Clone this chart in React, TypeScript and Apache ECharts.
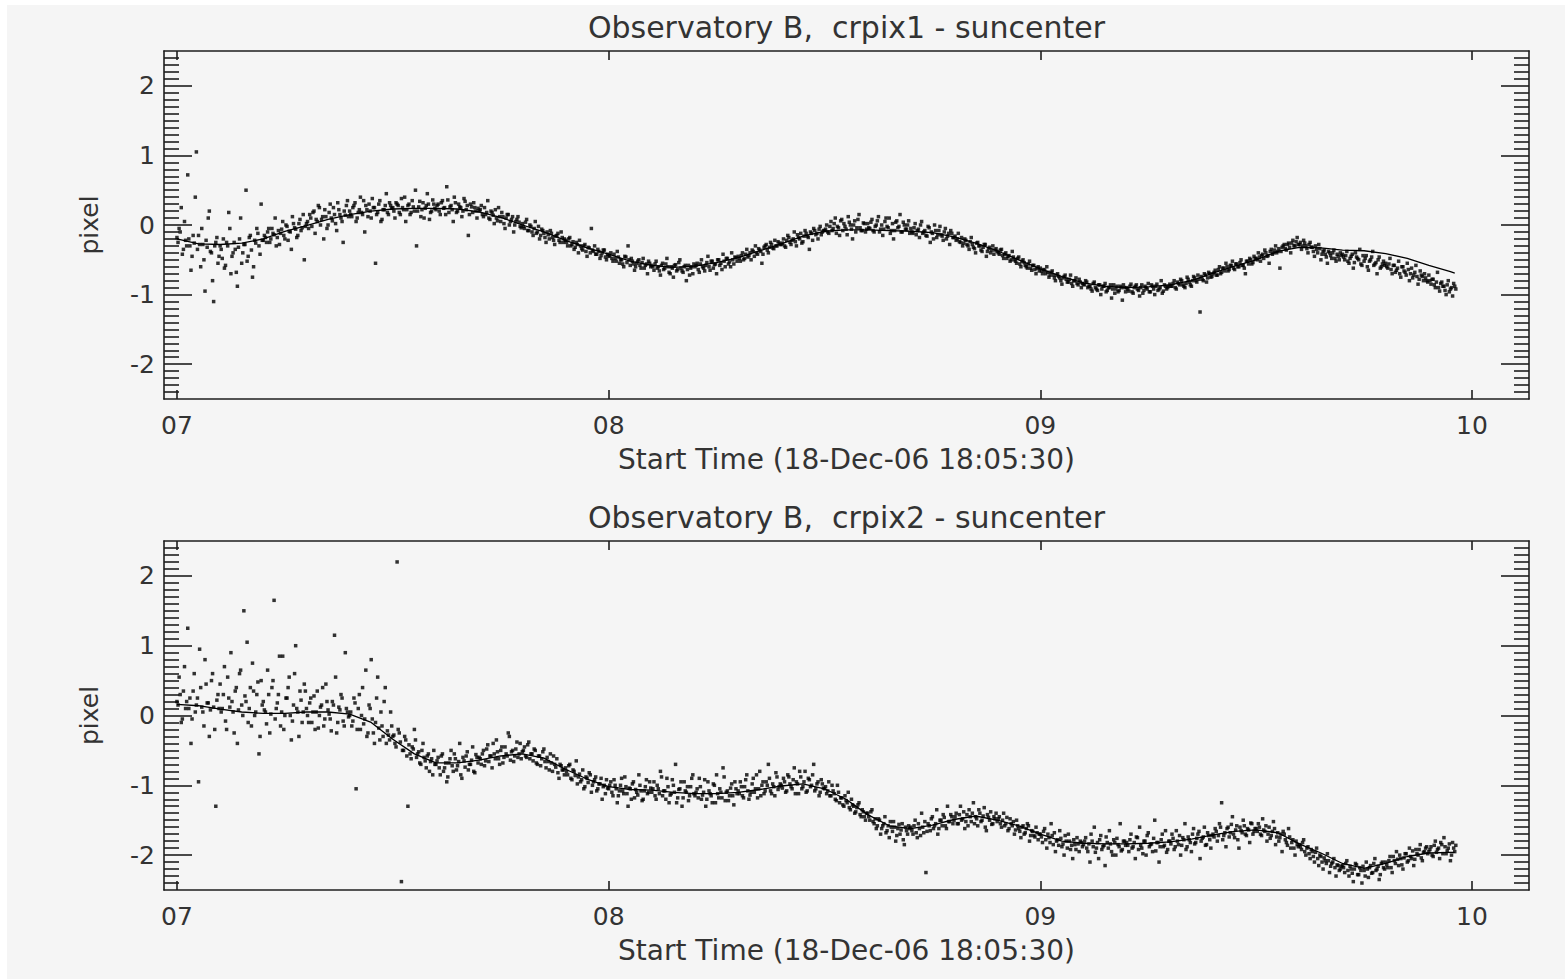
import React, { useEffect, useRef } from "react";
import * as echarts from "echarts";

// ---------- text ----------
const TITLE_1 = "Observatory B,  crpix1 - suncenter";
const TITLE_2 = "Observatory B,  crpix2 - suncenter";
const X_NAME = "Start Time (18-Dec-06 18:05:30)";
const Y_NAME = "pixel";

// ---------- axes ----------
const X_MIN = 6.97;
const X_MAX = 10.132;
const Y_MIN = -2.5;
const Y_MAX = 2.5;
const X_TICKS = [7, 8, 9, 10];
const X_TICK_LABELS = ["07", "08", "09", "10"];
const Y_TICKS = [-2, -1, 0, 1, 2];

// ---------- samples (two interleaved regular-cadence reads) ----------
const SAMPLE_START_A = 7.0;
const SAMPLE_START_B = 7.0025;
const SAMPLE_STEP = 0.005;

const CRPIX1_SAMPLES_A = [
  -0.18, -0.05, 0.25, -0.35, -0.22, 0.72, -0.30, -0.45, -0.26, 1.05, -0.15, -0.60, -0.28, -0.95, -0.32, 0.20, -0.40, -1.10, -0.25, -0.55,
  -0.30, -0.48, -0.62, -0.25, 0.18, -0.70, -0.40, -0.35, -0.88, -0.20, -0.55, -0.28, 0.50, -0.45, -0.15, -0.75, -0.22, -0.05, -0.30, 0.30,
  -0.22, -0.18, -0.10, -0.25, -0.05, -0.14, -0.30, -0.08, -0.12, 0.05, -0.20, -0.02, -0.09, -0.35, 0.02, -0.06, -0.15, 0.08, -0.04, -0.50,
  0.02, -0.05, 0.10, 0.18, -0.12, 0.05, 0.25, 0.08, -0.20, 0.12, 0.00, 0.30, 0.06, 0.15, -0.08, 0.22, 0.10, -0.25, 0.14, 0.35,
  0.20, 0.12, 0.28, 0.05, 0.18, 0.40, 0.15, -0.10, 0.22, 0.30, 0.10, 0.25, -0.55, 0.18, 0.35, 0.08, 0.22, 0.45, 0.15, 0.28,
  0.25, 0.10, 0.30, 0.18, 0.38, 0.22, 0.05, 0.28, 0.15, 0.35, 0.20, -0.30, 0.26, 0.12, 0.32, 0.24, 0.45, 0.08, 0.20, 0.30,
  0.22, 0.30, 0.15, 0.35, 0.25, 0.55, 0.18, 0.28, 0.05, 0.32, 0.20, 0.26, 0.12, 0.38, 0.22, -0.15, 0.30, 0.18, 0.25, 0.10,
  0.20, 0.28, 0.12, 0.15, 0.35, 0.08, 0.18, 0.02, 0.10, 0.25, 0.05, 0.12, -0.05, 0.15, 0.00, 0.08, -0.10, 0.05, 0.12, -0.02,
  0.02, -0.05, 0.08, -0.08, -0.02, -0.15, 0.05, -0.10, -0.20, -0.06, -0.12, -0.25, -0.14, -0.08, -0.18, -0.28, -0.15, -0.22, -0.10, -0.25,
  -0.22, -0.30, -0.18, -0.28, -0.35, -0.25, -0.40, -0.30, -0.36, -0.28, -0.45, -0.33, -0.05, -0.38, -0.42, -0.35, -0.48, -0.40, -0.36, -0.50,
  -0.45, -0.40, -0.52, -0.48, -0.38, -0.55, -0.50, -0.60, -0.46, -0.30, -0.58, -0.52, -0.65, -0.55, -0.50, -0.62, -0.48, -0.58, -0.70, -0.55,
  -0.58, -0.65, -0.52, -0.60, -0.72, -0.55, -0.62, -0.48, -0.68, -0.60, -0.75, -0.57, -0.64, -0.50, -0.66, -0.60, -0.80, -0.58, -0.62, -0.70,
  -0.60, -0.55, -0.68, -0.50, -0.62, -0.58, -0.45, -0.65, -0.52, -0.57, -0.70, -0.50, -0.55, -0.42, -0.60, -0.48, -0.53, -0.40, -0.56, -0.47,
  -0.45, -0.52, -0.40, -0.48, -0.35, -0.44, -0.50, -0.38, -0.30, -0.42, -0.36, -0.55, -0.32, -0.28, -0.40, -0.25, -0.33, -0.22, -0.30, -0.26,
  -0.28, -0.20, -0.32, -0.15, -0.25, -0.22, -0.10, -0.30, -0.18, -0.12, -0.24, -0.08, -0.16, -0.35, -0.12, -0.05, -0.14, -0.20, -0.02, -0.10,
  -0.08, 0.00, -0.12, 0.05, -0.05, 0.10, -0.02, -0.15, 0.08, 0.02, -0.06, 0.12, 0.00, -0.20, 0.06, -0.04, 0.15, -0.08, 0.03, -0.10,
  0.02, -0.05, 0.08, -0.10, 0.00, 0.12, -0.06, -0.15, 0.05, -0.02, 0.10, -0.08, -0.20, 0.04, -0.04, 0.15, -0.10, 0.00, -0.06, 0.06,
  -0.05, -0.12, 0.02, -0.08, -0.18, 0.05, -0.10, -0.15, -0.02, -0.25, -0.12, 0.00, -0.18, -0.08, -0.14, -0.22, -0.05, -0.16, -0.28, -0.12,
  -0.18, -0.22, -0.12, -0.25, -0.30, -0.20, -0.28, -0.35, -0.18, -0.32, -0.40, -0.25, -0.30, -0.38, -0.28, -0.45, -0.34, -0.40, -0.30, -0.36,
  -0.38, -0.42, -0.35, -0.48, -0.40, -0.45, -0.52, -0.38, -0.50, -0.55, -0.46, -0.60, -0.50, -0.58, -0.62, -0.52, -0.65, -0.58, -0.70, -0.60,
  -0.62, -0.70, -0.65, -0.60, -0.75, -0.68, -0.72, -0.80, -0.70, -0.76, -0.85, -0.74, -0.78, -0.82, -0.72, -0.88, -0.80, -0.84, -0.78, -0.90,
  -0.85, -0.80, -0.90, -0.88, -0.95, -0.82, -0.92, -0.86, -1.00, -0.88, -0.84, -0.94, -0.90, -1.05, -0.86, -0.92, -0.96, -0.88, -1.08, -0.90,
  -0.90, -0.95, -0.85, -0.98, -0.88, -0.92, -1.02, -0.86, -0.94, -0.90, -0.84, -0.96, -0.88, -1.00, -0.85, -0.92, -0.80, -0.95, -0.88, -0.90,
  -0.85, -0.88, -0.80, -0.92, -0.84, -0.78, -0.86, -0.90, -0.75, -0.82, -0.88, -0.74, -0.80, -0.72, -1.25, -0.78, -0.70, -0.82, -0.68, -0.75,
  -0.70, -0.65, -0.72, -0.60, -0.68, -0.62, -0.55, -0.66, -0.58, -0.52, -0.64, -0.56, -0.60, -0.50, -0.58, -0.70, -0.52, -0.48, -0.56, -0.45,
  -0.48, -0.40, -0.52, -0.42, -0.36, -0.45, -0.55, -0.35, -0.40, -0.30, -0.38, -0.62, -0.32, -0.28, -0.36, -0.26, -0.40, -0.22, -0.30, -0.18,
  -0.28, -0.35, -0.22, -0.30, -0.40, -0.25, -0.32, -0.45, -0.35, -0.28, -0.50, -0.38, -0.42, -0.55, -0.40, -0.48, -0.36, -0.52, -0.45, -0.40,
  -0.42, -0.50, -0.38, -0.55, -0.45, -0.62, -0.40, -0.48, -0.35, -0.58, -0.52, -0.44, -0.65, -0.50, -0.38, -0.56, -0.70, -0.46, -0.60, -0.52,
  -0.55, -0.62, -0.48, -0.70, -0.58, -0.65, -0.52, -0.75, -0.60, -0.68, -0.55, -0.80, -0.62, -0.72, -0.58, -0.85, -0.66, -0.74, -0.70, -0.80,
  -0.72, -0.85, -0.78, -0.90, -0.68, -0.95, -0.82, -0.88, -1.00, -0.80, -0.92, -1.02, -0.88,
];

const CRPIX1_SAMPLES_B = [
  -0.25, -0.10, -0.42, 0.05, -0.30, -0.20, -0.65, -0.15, 0.40, -0.35, -0.28, -0.05, -0.50, -0.22, 0.10, -0.38, -0.80, -0.30, -0.18, -0.45,
  -0.35, -0.20, -0.58, -0.30, -0.05, -0.45, -0.25, -0.68, -0.32, 0.10, -0.40, -0.28, -0.52, -0.18, -0.36, -0.60, -0.26, -0.12, -0.42, -0.22,
  -0.15, -0.25, -0.05, -0.20, -0.12, 0.10, -0.18, -0.28, -0.06, -0.15, 0.00, -0.22, -0.10, 0.12, -0.04, -0.18, 0.02, -0.08, 0.15, -0.02,
  0.05, 0.15, -0.02, 0.20, 0.08, 0.28, 0.00, 0.12, 0.22, -0.05, 0.18, 0.10, 0.25, 0.02, 0.32, 0.15, 0.05, 0.20, 0.28, 0.12,
  0.15, 0.25, 0.32, 0.10, 0.22, 0.18, 0.35, 0.28, 0.12, 0.20, 0.38, 0.25, 0.15, 0.30, 0.05, 0.22, 0.28, 0.18, 0.32, 0.24,
  0.20, 0.32, 0.28, 0.15, 0.25, 0.40, 0.22, 0.30, 0.18, 0.26, 0.50, 0.20, 0.34, 0.22, 0.10, 0.28, 0.30, 0.18, 0.36, 0.24,
  0.28, 0.20, 0.32, 0.24, 0.15, 0.36, 0.26, 0.22, 0.40, 0.18, 0.30, 0.25, 0.20, 0.34, 0.28, 0.15, 0.26, 0.32, 0.20, 0.24,
  0.22, 0.15, 0.25, 0.18, 0.10, 0.20, 0.14, 0.22, 0.06, 0.12, 0.18, 0.02, 0.10, 0.15, 0.05, 0.12, 0.00, 0.08, 0.04, -0.04,
  -0.02, 0.04, -0.08, 0.00, -0.10, -0.05, -0.12, -0.02, -0.15, -0.08, -0.18, -0.10, -0.20, -0.12, -0.22, -0.16, -0.12, -0.25, -0.18, -0.20,
  -0.25, -0.20, -0.30, -0.24, -0.32, -0.28, -0.22, -0.34, -0.30, -0.38, -0.32, -0.40, -0.36, -0.30, -0.42, -0.38, -0.44, -0.36, -0.46, -0.42,
  -0.44, -0.48, -0.42, -0.52, -0.46, -0.50, -0.56, -0.45, -0.54, -0.50, -0.48, -0.56, -0.60, -0.52, -0.58, -0.54, -0.62, -0.56, -0.52, -0.60,
  -0.60, -0.56, -0.62, -0.66, -0.58, -0.64, -0.56, -0.60, -0.70, -0.62, -0.58, -0.66, -0.54, -0.62, -0.68, -0.58, -0.64, -0.72, -0.60, -0.56,
  -0.58, -0.64, -0.56, -0.60, -0.66, -0.54, -0.60, -0.52, -0.62, -0.56, -0.50, -0.58, -0.64, -0.52, -0.48, -0.56, -0.60, -0.50, -0.46, -0.52,
  -0.48, -0.44, -0.50, -0.42, -0.46, -0.40, -0.36, -0.45, -0.40, -0.34, -0.38, -0.42, -0.30, -0.36, -0.32, -0.28, -0.34, -0.30, -0.24, -0.28,
  -0.26, -0.30, -0.22, -0.18, -0.28, -0.20, -0.24, -0.14, -0.20, -0.26, -0.16, -0.12, -0.18, -0.10, -0.22, -0.08, -0.12, -0.06, -0.14, -0.08,
  -0.06, -0.10, -0.02, -0.08, 0.02, -0.12, -0.04, 0.06, -0.08, -0.02, -0.14, 0.04, -0.06, 0.00, -0.10, 0.08, -0.04, -0.08, 0.02, -0.06,
  -0.04, 0.04, -0.08, -0.02, 0.06, -0.10, 0.00, -0.06, 0.10, -0.04, -0.12, 0.02, -0.08, 0.06, -0.02, -0.10, 0.04, -0.06, 0.00, -0.12,
  -0.10, -0.04, -0.14, -0.06, 0.00, -0.12, -0.08, -0.16, -0.04, -0.10, -0.20, -0.08, -0.14, -0.02, -0.16, -0.10, -0.20, -0.12, -0.08, -0.18,
  -0.16, -0.20, -0.24, -0.18, -0.26, -0.22, -0.30, -0.24, -0.28, -0.34, -0.26, -0.30, -0.36, -0.32, -0.28, -0.38, -0.32, -0.36, -0.42, -0.34,
  -0.40, -0.36, -0.44, -0.42, -0.48, -0.44, -0.50, -0.46, -0.52, -0.48, -0.56, -0.52, -0.54, -0.60, -0.56, -0.62, -0.58, -0.64, -0.62, -0.66,
  -0.66, -0.64, -0.70, -0.68, -0.72, -0.66, -0.76, -0.72, -0.74, -0.80, -0.76, -0.72, -0.82, -0.78, -0.84, -0.80, -0.76, -0.86, -0.82, -0.84,
  -0.86, -0.82, -0.88, -0.92, -0.84, -0.90, -0.94, -0.86, -0.92, -0.88, -0.96, -0.90, -0.86, -0.92, -0.98, -0.88, -0.94, -0.90, -0.86, -0.96,
  -0.92, -0.88, -0.96, -0.90, -0.86, -0.94, -0.90, -0.98, -0.88, -0.92, -0.96, -0.86, -0.92, -0.88, -0.94, -0.90, -0.98, -0.86, -0.92, -0.88,
  -0.88, -0.84, -0.90, -0.82, -0.86, -0.80, -0.88, -0.84, -0.78, -0.86, -0.80, -0.76, -0.82, -0.78, -0.74, -0.80, -0.72, -0.76, -0.70, -0.74,
  -0.68, -0.72, -0.64, -0.70, -0.62, -0.66, -0.60, -0.64, -0.58, -0.62, -0.56, -0.60, -0.54, -0.58, -0.62, -0.52, -0.56, -0.50, -0.54, -0.48,
  -0.50, -0.46, -0.44, -0.48, -0.40, -0.44, -0.38, -0.42, -0.36, -0.40, -0.34, -0.38, -0.30, -0.34, -0.28, -0.32, -0.26, -0.30, -0.24, -0.28,
  -0.25, -0.30, -0.26, -0.34, -0.28, -0.32, -0.38, -0.30, -0.40, -0.34, -0.42, -0.36, -0.46, -0.38, -0.44, -0.40, -0.48, -0.42, -0.50, -0.44,
  -0.46, -0.44, -0.52, -0.48, -0.42, -0.54, -0.46, -0.50, -0.56, -0.44, -0.48, -0.60, -0.52, -0.46, -0.58, -0.54, -0.50, -0.62, -0.56, -0.58,
  -0.60, -0.56, -0.64, -0.58, -0.68, -0.62, -0.70, -0.60, -0.66, -0.72, -0.64, -0.70, -0.76, -0.68, -0.74, -0.78, -0.72, -0.80, -0.76, -0.82,
  -0.80, -0.78, -0.86, -0.82, -0.90, -0.84, -0.88, -0.94, -0.86, -0.96, -0.90, -0.84, -0.92,
];

const CRPIX2_SAMPLES_A = [
  0.20, 0.55, -0.10, 0.35, 0.10, 1.25, 0.25, -0.05, 0.60, 0.15, -0.95, 0.40, 0.05, 0.80, 0.18, -0.30, 0.50, 0.12, -1.30, 0.30,
  0.45, 0.10, 0.70, -0.20, 0.25, 0.90, 0.05, 0.35, -0.40, 0.60, 0.15, 1.50, 0.20, -0.10, 0.40, 0.75, 0.00, 0.30, -0.55, 0.50,
  0.20, 0.05, 0.65, -0.25, 0.40, 1.65, 0.10, 0.30, -0.15, 0.85, 0.00, 0.25, 0.55, -0.35, 0.15, 1.00, 0.05, 0.35, -0.10, 0.45,
  0.10, -0.10, 0.25, 0.05, -0.20, 0.35, 0.00, 0.15, -0.15, 0.45, 0.08, -0.05, 0.20, 1.15, -0.25, 0.12, 0.30, -0.08, 0.90, 0.05,
  0.00, -0.15, 0.25, -1.05, 0.10, -0.20, 0.40, -0.05, -0.30, 0.15, 0.80, -0.25, -0.10, 0.55, -0.35, -0.15, 0.20, -0.40, -0.28, 0.05,
  -0.30, -0.40, 2.20, -0.25, -2.38, -0.50, -0.35, -1.30, -0.55, -0.45, -0.20, -0.60, -0.52, -0.70, -0.40, -0.65, -0.58, -0.80, -0.62, -0.50,
  -0.70, -0.60, -0.85, -0.55, -0.75, -0.95, -0.68, -0.50, -0.80, -0.62, -0.72, -0.40, -0.90, -0.65, -0.58, -0.78, -0.70, -0.45, -0.82, -0.60,
  -0.60, -0.70, -0.50, -0.65, -0.42, -0.58, -0.75, -0.55, -0.35, -0.62, -0.50, -0.68, -0.45, -0.58, -0.30, -0.52, -0.66, -0.48, -0.60, -0.40,
  -0.52, -0.45, -0.60, -0.38, -0.55, -0.65, -0.50, -0.70, -0.58, -0.62, -0.48, -0.75, -0.66, -0.55, -0.80, -0.70, -0.62, -0.90, -0.72, -0.78,
  -0.75, -0.85, -0.70, -0.92, -0.80, -0.65, -0.88, -0.95, -0.78, -1.02, -0.90, -0.82, -1.10, -0.95, -0.88, -1.05, -0.98, -1.20, -1.00, -0.92,
  -1.05, -0.95, -1.15, -1.00, -1.25, -1.08, -0.90, -1.12, -1.02, -1.30, -1.05, -0.98, -1.18, -1.10, -0.85, -1.08, -1.20, -1.02, -1.12, -0.95,
  -1.10, -0.95, -1.20, -1.05, -0.80, -1.15, -1.08, -0.90, -1.25, -1.12, -1.00, -0.70, -1.18, -1.05, -1.30, -0.95, -1.10, -1.22, -1.02, -0.85,
  -1.15, -1.05, -0.90, -1.20, -1.10, -1.30, -0.95, -1.12, -1.25, -1.00, -0.85, -1.18, -1.10, -0.75, -1.22, -1.08, -1.15, -0.98, -1.28, -1.05,
  -1.08, -0.95, -1.15, -1.02, -0.85, -1.20, -1.10, -0.90, -1.05, -1.18, -0.80, -1.00, -1.12, -0.95, -0.70, -1.08, -0.98, -1.15, -0.88, -1.02,
  -1.00, -0.90, -1.10, -0.85, -0.98, -1.05, -0.75, -0.95, -1.12, -0.88, -1.02, -0.80, -1.08, -0.92, -1.00, -0.70, -1.05, -0.95, -1.10, -0.98,
  -1.05, -1.12, -0.95, -1.15, -1.08, -1.20, -1.00, -1.25, -1.18, -1.30, -1.22, -1.10, -1.35, -1.28, -1.40, -1.32, -1.25, -1.45, -1.38, -1.50,
  -1.40, -1.50, -1.35, -1.55, -1.62, -1.48, -1.70, -1.58, -1.45, -1.65, -1.75, -1.60, -1.52, -1.80, -1.62, -1.70, -1.55, -1.85, -1.65, -1.58,
  -1.60, -1.70, -1.50, -1.75, -1.62, -1.40, -1.68, -2.25, -1.55, -1.65, -1.45, -1.58, -1.35, -1.62, -1.50, -1.42, -1.58, -1.30, -1.52, -1.45,
  -1.50, -1.40, -1.55, -1.30, -1.48, -1.62, -1.42, -1.35, -1.52, -1.25, -1.45, -1.58, -1.40, -1.50, -1.32, -1.65, -1.46, -1.38, -1.55, -1.48,
  -1.52, -1.45, -1.60, -1.40, -1.55, -1.65, -1.48, -1.58, -1.70, -1.50, -1.62, -1.75, -1.58, -1.68, -1.55, -1.80, -1.65, -1.72, -1.60, -1.78,
  -1.70, -1.82, -1.62, -1.90, -1.75, -1.55, -1.85, -1.95, -1.78, -1.65, -1.88, -2.00, -1.80, -1.70, -1.92, -2.05, -1.85, -1.75, -1.95, -1.82,
  -1.85, -1.75, -1.95, -2.10, -1.80, -1.60, -1.90, -2.05, -1.72, -1.88, -2.15, -1.82, -1.65, -1.95, -1.78, -2.00, -1.85, -1.55, -1.92, -1.80,
  -1.82, -1.95, -1.70, -1.88, -2.05, -1.75, -1.60, -1.90, -1.80, -2.00, -1.68, -1.85, -1.95, -1.50, -1.82, -2.10, -1.78, -1.88, -1.65, -1.92,
  -1.80, -1.70, -1.92, -1.65, -1.85, -2.00, -1.75, -1.55, -1.88, -1.78, -1.95, -1.62, -1.82, -1.70, -2.05, -1.76, -1.60, -1.85, -1.72, -1.90,
  -1.70, -1.62, -1.80, -1.55, -1.25, -1.72, -1.88, -1.60, -1.68, -1.45, -1.75, -1.58, -1.90, -1.65, -1.50, -1.70, -1.62, -1.82, -1.55, -1.66,
  -1.62, -1.55, -1.70, -1.48, -1.66, -1.80, -1.60, -1.72, -1.52, -1.85, -1.68, -1.75, -1.95, -1.70, -1.82, -1.62, -1.90, -1.78, -2.00, -1.85,
  -1.85, -1.92, -1.78, -2.00, -1.88, -2.05, -1.95, -2.10, -1.90, -2.15, -2.02, -2.20, -2.08, -1.98, -2.25, -2.12, -2.05, -2.30, -2.15, -2.20,
  -2.15, -2.25, -2.08, -2.30, -2.20, -2.38, -2.12, -2.28, -2.18, -2.40, -2.22, -2.10, -2.32, -2.15, -2.25, -2.05, -2.20, -2.35, -2.12, -2.18,
  -2.10, -2.18, -2.02, -2.25, -2.08, -1.95, -2.15, -2.05, -2.20, -1.98, -2.10, -1.90, -2.05, -2.15, -1.92, -2.00, -1.85, -2.08, -1.95, -1.88,
  -1.95, -1.88, -2.02, -1.80, -1.92, -2.05, -1.85, -1.75, -1.98, -1.90, -2.08, -1.82, -1.95,
];

const CRPIX2_SAMPLES_B = [
  0.15, 0.30, -0.05, 0.70, 0.20, 0.10, -0.40, 0.35, 0.05, 0.25, 0.95, 0.12, -0.15, 0.45, 0.18, 0.08, 0.60, -0.20, 0.22, 0.10,
  0.05, 0.30, -0.08, 0.55, 0.12, 0.20, -0.25, 0.40, 0.08, 0.65, 0.00, 0.28, 1.05, 0.10, -0.15, 0.35, 0.05, 0.48, -0.30, 0.15,
  0.08, -0.12, 0.30, 0.02, 0.50, -0.05, 0.18, 0.85, 0.05, -0.20, 0.25, 0.40, 0.00, -0.08, 0.60, 0.10, -0.30, 0.22, 0.05, 0.35,
  0.00, 0.18, -0.10, 0.28, 0.05, -0.18, 0.12, 0.40, -0.05, 0.20, 0.02, -0.22, 0.15, 0.55, -0.10, 0.08, 0.25, -0.15, 0.10, -0.02,
  0.05, -0.08, 0.18, -0.20, 0.30, 0.00, -0.12, 0.65, -0.25, 0.10, -0.05, -0.40, 0.25, -0.18, 0.05, -0.30, 0.40, -0.22, -0.35, -0.15,
  -0.28, -0.45, -0.20, -0.38, -0.50, -0.30, -0.58, -0.42, -0.62, -0.48, -0.35, -0.55, -0.68, -0.50, -0.60, -0.75, -0.55, -0.66, -0.85, -0.70,
  -0.65, -0.75, -0.58, -0.80, -0.68, -0.88, -0.62, -0.72, -0.55, -0.78, -0.66, -0.85, -0.60, -0.74, -0.52, -0.70, -0.64, -0.80, -0.56, -0.68,
  -0.62, -0.55, -0.72, -0.48, -0.66, -0.58, -0.40, -0.62, -0.52, -0.70, -0.45, -0.60, -0.55, -0.25, -0.64, -0.50, -0.58, -0.38, -0.55, -0.62,
  -0.50, -0.58, -0.42, -0.62, -0.55, -0.48, -0.68, -0.58, -0.72, -0.52, -0.66, -0.60, -0.78, -0.68, -0.58, -0.74, -0.82, -0.70, -0.78, -0.85,
  -0.80, -0.72, -0.90, -0.78, -0.86, -0.98, -0.84, -0.92, -1.05, -0.88, -0.96, -0.85, -1.00, -0.92, -1.08, -0.98, -0.90, -1.02, -1.12, -1.04,
  -1.00, -1.10, -0.92, -1.05, -1.15, -1.00, -1.08, -0.88, -1.12, -1.04, -1.20, -0.95, -1.06, -1.14, -1.00, -1.22, -1.08, -0.92, -1.10, -1.04,
  -1.05, -1.15, -1.00, -1.12, -0.88, -1.08, -1.20, -1.02, -1.14, -0.92, -1.10, -1.25, -1.06, -0.95, -1.18, -1.08, -1.02, -1.15, -0.90, -1.12,
  -1.10, -1.18, -1.02, -1.14, -0.92, -1.20, -1.08, -1.15, -0.98, -1.25, -1.12, -1.05, -1.18, -0.88, -1.10, -1.22, -1.04, -1.15, -0.95, -1.12,
  -1.12, -1.02, -1.18, -0.92, -1.08, -1.14, -0.98, -1.10, -0.85, -1.05, -1.15, -0.95, -1.08, -1.00, -0.90, -1.12, -1.02, -0.82, -1.06, -0.98,
  -1.04, -0.95, -1.08, -0.88, -1.02, -0.92, -1.12, -0.98, -0.80, -1.05, -0.95, -1.10, -0.90, -1.02, -0.85, -1.08, -0.98, -1.15, -0.92, -1.04,
  -1.02, -1.08, -1.15, -1.00, -1.12, -1.22, -1.10, -1.18, -1.28, -1.15, -1.25, -1.32, -1.20, -1.30, -1.38, -1.28, -1.42, -1.35, -1.45, -1.40,
  -1.45, -1.38, -1.52, -1.48, -1.58, -1.50, -1.62, -1.55, -1.68, -1.58, -1.52, -1.66, -1.60, -1.72, -1.56, -1.64, -1.78, -1.60, -1.70, -1.62,
  -1.65, -1.58, -1.68, -1.55, -1.72, -1.60, -1.52, -1.66, -1.58, -1.48, -1.62, -1.55, -1.70, -1.50, -1.58, -1.46, -1.62, -1.52, -1.42, -1.55,
  -1.45, -1.55, -1.42, -1.50, -1.38, -1.52, -1.58, -1.45, -1.40, -1.55, -1.48, -1.35, -1.52, -1.44, -1.60, -1.42, -1.50, -1.56, -1.45, -1.40,
  -1.48, -1.55, -1.50, -1.58, -1.46, -1.62, -1.55, -1.52, -1.64, -1.58, -1.66, -1.60, -1.70, -1.62, -1.58, -1.72, -1.66, -1.74, -1.68, -1.70,
  -1.74, -1.66, -1.78, -1.70, -1.82, -1.72, -1.68, -1.80, -1.86, -1.76, -1.84, -1.72, -1.90, -1.80, -1.86, -1.78, -1.92, -1.84, -1.80, -1.88,
  -1.80, -1.90, -1.84, -1.70, -1.88, -1.96, -1.82, -1.78, -1.92, -1.86, -1.74, -1.90, -1.84, -2.00, -1.82, -1.76, -1.88, -1.94, -1.80, -1.86,
  -1.86, -1.78, -1.90, -1.82, -1.74, -1.92, -1.86, -1.98, -1.80, -1.72, -1.88, -1.84, -1.76, -1.94, -1.82, -1.88, -1.70, -1.86, -1.96, -1.80,
  -1.84, -1.76, -1.88, -1.80, -1.72, -1.86, -1.78, -1.92, -1.74, -1.82, -1.70, -1.84, -1.76, -1.66, -1.80, -1.74, -1.86, -1.68, -1.78, -1.72,
  -1.74, -1.66, -1.72, -1.60, -1.78, -1.68, -1.62, -1.74, -1.56, -1.70, -1.64, -1.78, -1.60, -1.68, -1.58, -1.72, -1.64, -1.54, -1.70, -1.62,
  -1.66, -1.60, -1.72, -1.64, -1.58, -1.70, -1.76, -1.66, -1.62, -1.74, -1.80, -1.70, -1.66, -1.78, -1.86, -1.74, -1.82, -1.90, -1.80, -1.88,
  -1.88, -1.82, -1.95, -1.90, -1.98, -1.92, -2.02, -1.96, -2.05, -2.00, -2.10, -2.04, -2.12, -2.08, -2.16, -2.10, -2.18, -2.14, -2.22, -2.16,
  -2.18, -2.12, -2.22, -2.16, -2.26, -2.20, -2.14, -2.28, -2.22, -2.16, -2.30, -2.20, -2.18, -2.26, -2.12, -2.22, -2.16, -2.28, -2.10, -2.20,
  -2.14, -2.08, -2.18, -2.02, -2.12, -2.06, -2.00, -2.14, -2.04, -1.98, -2.08, -2.02, -1.94, -2.06, -1.98, -1.92, -2.04, -1.96, -1.90, -1.98,
  -1.92, -2.00, -1.86, -1.96, -1.90, -1.82, -1.98, -1.88, -1.94, -1.84, -2.00, -1.90, -1.86,
];

// ---------- smoothed trend lines ----------
const TREND_X = [
  7.0, 7.05, 7.1, 7.15, 7.2, 7.25, 7.3, 7.35, 7.4, 7.45,
  7.5, 7.55, 7.6, 7.65, 7.7, 7.75, 7.8, 7.85, 7.9, 7.95,
  8.0, 8.05, 8.1, 8.15, 8.2, 8.25, 8.3, 8.35, 8.4, 8.45,
  8.5, 8.55, 8.6, 8.65, 8.7, 8.75, 8.8, 8.85, 8.9, 8.95,
  9.0, 9.05, 9.1, 9.15, 9.2, 9.25, 9.3, 9.35, 9.4, 9.45,
  9.5, 9.55, 9.6, 9.65, 9.7, 9.75, 9.8, 9.85, 9.9, 9.95,
  9.96,
];
const CRPIX1_TREND = [
  -0.2, -0.27, -0.28, -0.26, -0.2, -0.09, -0.01, 0.08, 0.15, 0.2,
  0.23, 0.24, 0.24, 0.23, 0.19, 0.11, 0.0, -0.1, -0.22, -0.33,
  -0.42, -0.52, -0.58, -0.61, -0.59, -0.54, -0.47, -0.37, -0.27, -0.16,
  -0.09, -0.07, -0.07, -0.08, -0.09, -0.11, -0.17, -0.26, -0.37, -0.5,
  -0.63, -0.74, -0.83, -0.88, -0.9, -0.89, -0.86, -0.8, -0.69, -0.59,
  -0.5, -0.38, -0.32, -0.33, -0.36, -0.37, -0.41, -0.48, -0.58, -0.67,
  -0.69,
];
const CRPIX2_TREND = [
  0.16, 0.14, 0.09, 0.05, 0.03, 0.03, 0.05, 0.05, 0.02, -0.1,
  -0.34, -0.55, -0.68, -0.68, -0.64, -0.58, -0.55, -0.61, -0.77, -0.91,
  -1.02, -1.06, -1.07, -1.1, -1.12, -1.12, -1.1, -1.06, -1.01, -0.98,
  -1.05, -1.2, -1.42, -1.58, -1.62, -1.57, -1.49, -1.44, -1.5, -1.58,
  -1.7, -1.8, -1.83, -1.84, -1.84, -1.83, -1.81, -1.77, -1.71, -1.66,
  -1.64, -1.68, -1.84, -1.97, -2.12, -2.19, -2.12, -2.02, -1.97, -1.96,
  -1.96,
];

// ---------- style ----------
const FONT = "'DejaVu Sans', 'Liberation Sans', sans-serif";
const INK = "#1e1e1e";
const TEXT = "#333333";
const BG = "#f5f5f5";
const GRIDS = [
  { left: 164, top: 51, width: 1365, height: 348 },
  { left: 164, top: 541, width: 1365, height: 349 },
];
const TITLE_Y = [27, 517];

const Y_MINOR: number[] = [];
for (let k = -24; k <= 24; k++) {
  if (k % 10 !== 0) Y_MINOR.push(k / 10);
}

function sampleData(values: number[], start: number) {
  return values.map((v, i) => [Math.round((start + i * SAMPLE_STEP) * 10000) / 10000, v]);
}

function buildOption() {
  const xAxis: any[] = [];
  const yAxis: any[] = [];
  const series: any[] = [];
  const lineStyle = { color: INK, width: 1.6 };
  const panels = [
    { a: CRPIX1_SAMPLES_A, b: CRPIX1_SAMPLES_B, trend: CRPIX1_TREND },
    { a: CRPIX2_SAMPLES_A, b: CRPIX2_SAMPLES_B, trend: CRPIX2_TREND },
  ];
  panels.forEach((p, g) => {
    xAxis.push({
      type: "value", gridIndex: g, min: X_MIN, max: X_MAX, position: "bottom",
      axisLine: { show: true, onZero: false, lineStyle },
      axisTick: { show: true, inside: true, length: 9, customValues: X_TICKS, lineStyle },
      axisLabel: {
        show: true, customValues: X_TICKS, margin: 14, fontSize: 25, color: TEXT, fontFamily: FONT,
        formatter: (v: number) => {
          const i = X_TICKS.indexOf(Math.round(v));
          return i >= 0 ? X_TICK_LABELS[i] : "";
        },
      },
      splitLine: { show: false },
      name: X_NAME, nameLocation: "middle", nameGap: 46,
      nameTextStyle: { fontSize: 28, color: TEXT, fontFamily: FONT },
    });
    xAxis.push({
      type: "value", gridIndex: g, min: X_MIN, max: X_MAX, position: "top",
      axisLine: { show: true, onZero: false, lineStyle },
      axisTick: { show: true, inside: true, length: 9, customValues: X_TICKS, lineStyle },
      axisLabel: { show: false },
      splitLine: { show: false },
    });
    const yBase = {
      type: "value", gridIndex: g, min: Y_MIN, max: Y_MAX, splitLine: { show: false },
    };
    yAxis.push({
      ...yBase, position: "left",
      axisLine: { show: true, onZero: false, lineStyle },
      axisTick: { show: true, inside: true, length: 28, customValues: Y_TICKS, lineStyle },
      axisLabel: {
        show: true, customValues: Y_TICKS, margin: 9, fontSize: 25, color: TEXT, fontFamily: FONT,
        formatter: (v: number) => String(v),
      },
      name: Y_NAME, nameLocation: "middle", nameGap: 62, nameRotate: 90,
      nameTextStyle: { fontSize: 25, color: TEXT, fontFamily: FONT },
    });
    yAxis.push({
      ...yBase, position: "left",
      axisLine: { show: false, onZero: false },
      axisTick: { show: true, inside: true, length: 15, customValues: Y_MINOR, lineStyle },
      axisLabel: { show: false },
    });
    yAxis.push({
      ...yBase, position: "right",
      axisLine: { show: true, onZero: false, lineStyle },
      axisTick: { show: true, inside: true, length: 28, customValues: Y_TICKS, lineStyle },
      axisLabel: { show: false },
    });
    yAxis.push({
      ...yBase, position: "right",
      axisLine: { show: false, onZero: false },
      axisTick: { show: true, inside: true, length: 15, customValues: Y_MINOR, lineStyle },
      axisLabel: { show: false },
    });
    series.push({
      type: "scatter", xAxisIndex: g * 2, yAxisIndex: g * 4,
      data: sampleData(p.a, SAMPLE_START_A).concat(sampleData(p.b, SAMPLE_START_B)),
      symbol: "rect", symbolSize: 3.5,
      itemStyle: { color: "#000" }, silent: true, z: 2,
    });
    series.push({
      type: "line", xAxisIndex: g * 2, yAxisIndex: g * 4,
      data: TREND_X.map((x, i) => [x, p.trend[i]]),
      showSymbol: false, symbol: "none", smooth: false,
      lineStyle: { color: "#000", width: 1.3 }, silent: true, z: 3,
    });
  });

  const graphic = [TITLE_1, TITLE_2].map((t, i) => ({
    type: "text",
    x: GRIDS[i].left + GRIDS[i].width / 2,
    y: TITLE_Y[i],
    style: {
      text: t, fontSize: 30, fontFamily: FONT, fill: TEXT,
      textAlign: "center", textVerticalAlign: "middle",
    },
  }));

  return {
    animation: false,
    backgroundColor: "transparent",
    grid: GRIDS.map((g) => ({ ...g, containLabel: false, outerBoundsMode: "none" })),
    xAxis, yAxis, series, graphic,
  };
}

export default function App() {
  const ref = useRef<HTMLDivElement>(null);
  useEffect(() => {
    if (!ref.current) return;
    const chart = echarts.init(ref.current, undefined, { renderer: "svg" });
    chart.setOption(buildOption() as any);
    return () => chart.dispose();
  }, []);
  return (
    <div style={{ position: "fixed", left: 0, top: 0, width: 1565, height: 979, background: "#ffffff" }}>
      <div style={{ position: "absolute", left: 7, top: 5, right: 0, bottom: 0, background: BG }} />
      <div ref={ref} style={{ position: "absolute", left: 0, top: 0, width: 1565, height: 979 }} />
    </div>
  );
}
